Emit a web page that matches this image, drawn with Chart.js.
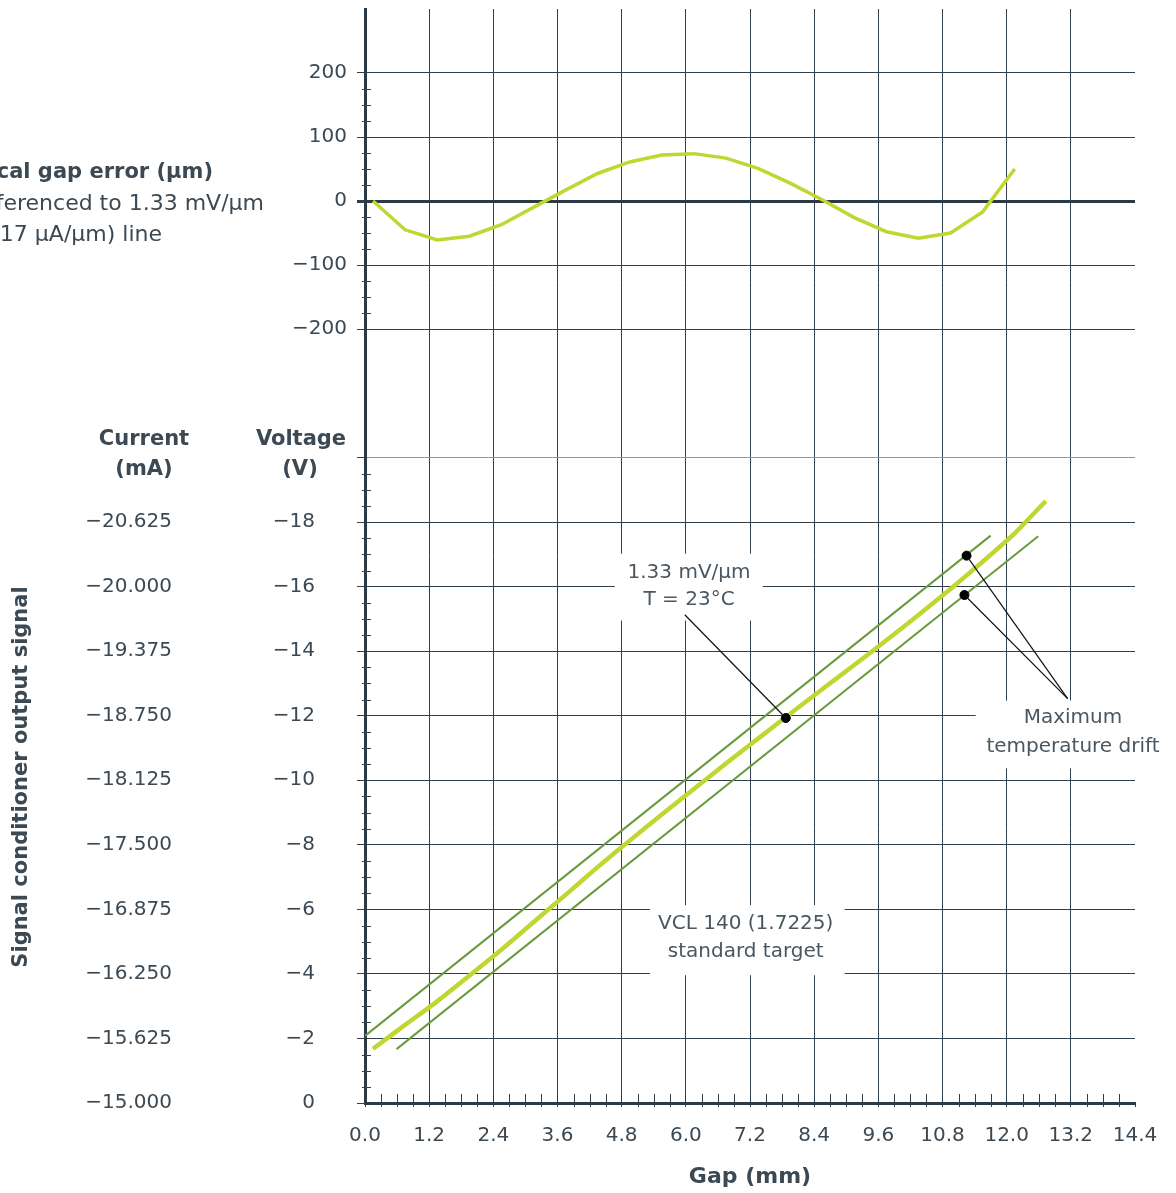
<!DOCTYPE html>
<html><head><meta charset="utf-8">
<script src="https://cdn.jsdelivr.net/npm/chart.js@4.4.1/dist/chart.umd.min.js"></script>
<style>html,body{margin:0;padding:0;background:#fff;overflow:hidden}canvas{display:block}</style>
</head><body>
<canvas id="c" width="1176" height="1193" style="width:1176px;height:1193px"></canvas>
<script>
// ---- data ----
const gapX = [0.15,0.75,1.35,1.95,2.55,3.15,3.75,4.35,4.95,5.55,6.15,6.75,7.35,7.95,8.55,9.15,9.75,10.35,10.95,11.55,12.15];
const gapError = [0,-45,-61,-55,-37,-10,17,43,61,72,74,67,51,28,2,-26,-48,-58,-50,-17,50];
const outputX = [0.15,0.75,1.35,1.95,2.55,3.15,3.75,4.35,4.95,5.55,6.15,6.75,7.35,7.95,8.55,9.15,9.75,10.35,10.95,11.55,12.15,12.73];
const outputV = [-1.68,-2.42,-3.15,-3.94,-4.75,-5.60,-6.45,-7.31,-8.13,-8.94,-9.73,-10.52,-11.29,-12.06,-12.82,-13.57,-14.34,-15.12,-15.93,-16.77,-17.65,-18.65];
const driftHighX = [0, 11.70];
const driftHighV = [-2.08, -17.58];
const driftLowX = [0.59, 12.59];
const driftLowV = [-1.67, -17.56];
const markerX = [7.87, 11.25, 11.21];
const markerV = [-11.93, -16.96, -15.74];
const xTicks = [0,1.2,2.4,3.6,4.8,6.0,7.2,8.4,9.6,10.8,12.0,13.2,14.4];
const xTickLabels = ['0.0','1.2','2.4','3.6','4.8','6.0','7.2','8.4','9.6','10.8','12.0','13.2','14.4'];
const gapTicks = [-200,-100,0,100,200];
const gapTickLabels = ['\u2212200','\u2212100','0','100','200'];
const voltTicks = [0,-2,-4,-6,-8,-10,-12,-14,-16,-18,-20];
const voltTickLabels = ['0','\u22122','\u22124','\u22126','\u22128','\u221210','\u221212','\u221214','\u221216','\u221218',''];
const currentLabels = ['\u221215.000','\u221215.625','\u221216.250','\u221216.875','\u221217.500','\u221218.125','\u221218.750','\u221219.375','\u221220.000','\u221220.625',''];

// ---- style ----
const FONT = '"DejaVu Sans", sans-serif';
const TXT = '#3c4953';
const GRID = '#2f3f4b';
const AXIS = '#2c3a45';
const LIME = '#c0d732';
const DRIFT = '#6a9a3e';

const notes = [
  {lines:['1.33 mV/\u03bcm','T = 23\u00b0C'], box:[4.67,7.44,-17.02,-14.95], cx:6.06, ly:[-16.43,-15.60],
   leaders:[[5.98,-15.13,7.87,-11.93]]},
  {lines:['Maximum','temperature drift'], box:[11.42,16.5,-12.47,-10.37], cx:13.24, ly:[-11.95,-11.05],
   leaders:[[13.14,-12.53,11.25,-16.96],[13.14,-12.53,11.21,-15.74]]},
  {lines:['VCL 140 (1.7225)','standard target'], box:[5.33,8.97,-6.13,-3.96], cx:7.12, ly:[-5.54,-4.67], leaders:[]}
];

const overlay = {
  id: 'overlay',
  beforeDatasetsDraw(chart) {
    const {ctx, chartArea, scales} = chart;
    const x = scales.x, yv = scales.yv, yg = scales.yg;
    ctx.save();
    // white label boxes hiding the grid
    ctx.fillStyle = '#ffffff';
    notes.forEach(n => {
      const x1 = x.getPixelForValue(n.box[0]), x2 = x.getPixelForValue(n.box[1]);
      const y1 = yv.getPixelForValue(n.box[2]), y2 = yv.getPixelForValue(n.box[3]);
      ctx.fillRect(x1, y1, x2 - x1, y2 - y1);
    });
    // minor ticks
    ctx.strokeStyle = GRID; ctx.lineWidth = 1;
    ctx.beginPath();
    const b = chartArea.bottom, l = chartArea.left;
    for (let k = 1; k < 48; k++) {
      if (k % 4 === 0) continue;
      const px = Math.round(x.getPixelForValue(k * 0.3)) + 0.5;
      ctx.moveTo(px, b - 9); ctx.lineTo(px, b + 4);
    }
    for (let k = -7; k <= 7; k++) {
      if (k % 4 === 0) continue;
      const py = Math.round(yg.getPixelForValue(k * 25)) + 0.5;
      ctx.moveTo(l - 3, py); ctx.lineTo(l + 6, py);
    }
    for (let k = 1; k < 40; k++) {
      if (k % 4 === 0) continue;
      const py = Math.round(yv.getPixelForValue(-k * 0.5)) + 0.5;
      ctx.moveTo(l - 3, py); ctx.lineTo(l + 6, py);
    }
    ctx.stroke();
    ctx.restore();
  },
  afterDatasetsDraw(chart) {
    const {ctx, scales} = chart;
    const x = scales.x, yv = scales.yv;
    ctx.save();
    // leaders
    ctx.strokeStyle = '#111'; ctx.lineWidth = 1.2;
    notes.forEach(n => n.leaders.forEach(s => {
      ctx.beginPath();
      ctx.moveTo(x.getPixelForValue(s[0]), yv.getPixelForValue(s[1]));
      ctx.lineTo(x.getPixelForValue(s[2]), yv.getPixelForValue(s[3]));
      ctx.stroke();
    }));
    // note text
    ctx.fillStyle = '#4a5760';
    ctx.font = '20px ' + FONT;
    ctx.textAlign = 'center'; ctx.textBaseline = 'middle';
    notes.forEach(n => n.lines.forEach((t, i) => {
      ctx.fillText(t, x.getPixelForValue(n.cx), yv.getPixelForValue(n.ly[i]));
    }));
    ctx.restore();
  },
  afterDraw(chart) {
    const {ctx, scales} = chart;
    const yv = scales.yv;
    ctx.save();
    ctx.fillStyle = TXT;
    ctx.textBaseline = 'middle';
    // current column
    ctx.font = '20px ' + FONT;
    ctx.textAlign = 'right';
    voltTicks.forEach((v, i) => ctx.fillText(currentLabels[i], 172, yv.getPixelForValue(v)));
    // headers
    ctx.font = 'bold 21px ' + FONT;
    ctx.textAlign = 'center';
    ctx.fillText('Current', 144, 440);
    ctx.fillText('(mA)', 144, 470);
    ctx.fillText('Voltage', 301, 440);
    ctx.fillText('(V)', 300, 470);
    // rotated title
    ctx.save();
    ctx.translate(22, 777);
    ctx.rotate(-Math.PI / 2);
    ctx.fillText('Signal conditioner output signal', 0, 0);
    ctx.restore();
    // top-left note (clipped by the page edge)
    ctx.textAlign = 'right';
    ctx.font = 'bold 21px ' + FONT;
    ctx.fillText('Typical gap error (\u03bcm)', 213, 173);
    ctx.font = '22px ' + FONT;
    ctx.fillText('Referenced to 1.33 mV/\u03bcm', 264, 204);
    ctx.fillText('(0.417 \u03bcA/\u03bcm) line', 162, 235);
    ctx.restore();
  }
};

const pts = (xs, ys) => xs.map((v, i) => ({x: v, y: ys[i]}));

new Chart(document.getElementById('c'), {
  type: 'line',
  data: {
    datasets: [
      {label:'markers', data: pts(markerX, markerV), yAxisID:'yv', showLine:false, pointRadius:4.5,
       pointBackgroundColor:'#000', pointBorderColor:'#000', order:0},
      {label:'gap error', data: pts(gapX, gapError), yAxisID:'yg', borderColor:LIME, borderWidth:3.5,
       pointRadius:0, tension:0, order:1},
      {label:'output', data: pts(outputX, outputV), yAxisID:'yv', borderColor:LIME, borderWidth:4.5,
       pointRadius:0, tension:0.2, order:1},
      {label:'drift high', data: pts(driftHighX, driftHighV), yAxisID:'yv', borderColor:DRIFT, borderWidth:2,
       pointRadius:0, order:2},
      {label:'drift low', data: pts(driftLowX, driftLowV), yAxisID:'yv', borderColor:DRIFT, borderWidth:2,
       pointRadius:0, order:2}
    ]
  },
  options: {
    responsive: false, animation: false, devicePixelRatio: 1,
    layout: {padding: {left: 0, right: 41, top: 9, bottom: 0}},
    plugins: {legend: {display: false}, tooltip: {enabled: false}},
    scales: {
      x: {
        type: 'linear', position: 'bottom', min: 0, max: 14.4,
        afterBuildTicks: s => { s.ticks = xTicks.map(v => ({value: v})); },
        ticks: {autoSkip: false, maxRotation: 0, padding: 17, color: TXT, font: {family: FONT, size: 20},
                callback: (v, i) => xTickLabels[i]},
        grid: {color: c => (c.tick && (c.tick.value === 0 || c.tick.value > 14.3)) ? 'rgba(0,0,0,0)' : GRID,
               lineWidth: 1, tickLength: 4, tickColor: GRID},
        border: {color: AXIS, width: 3},
        title: {display: true, text: 'Gap (mm)', color: TXT, font: {family: FONT, size: 22, weight: 'bold'},
                padding: {top: 0, bottom: 3}},
        afterFit: s => { s.height = 90; s.paddingLeft = 0; s.paddingRight = 0; }
      },
      yv: {
        type: 'linear', position: 'left', stack: 'panels', stackWeight: 710,
        min: -22, max: 0, reverse: true,
        afterBuildTicks: s => { s.ticks = voltTicks.map(v => ({value: v})); },
        ticks: {autoSkip: false, padding: 42, color: TXT, font: {family: FONT, size: 20},
                callback: (v, i) => voltTickLabels[i]},
        grid: {color: c => (c.tick && c.tick.value === -20) ? '#8d989f' : GRID, lineWidth: 1, tickLength: 8, tickColor: GRID},
        border: {color: AXIS, width: 3},
        afterFit: s => { s.width = 365; s.paddingTop = 0; s.paddingBottom = 0; }
      },
      yg: {
        type: 'linear', position: 'left', stack: 'panels', stackWeight: 384,
        min: -300, max: 300,
        afterBuildTicks: s => { s.ticks = gapTicks.map(v => ({value: v})); },
        ticks: {autoSkip: false, padding: 10, color: TXT, font: {family: FONT, size: 20},
                callback: (v, i) => gapTickLabels[i]},
        grid: {color: c => (c.tick && c.tick.value === 0) ? AXIS : GRID,
               lineWidth: c => (c.tick && c.tick.value === 0) ? 3 : 1, tickLength: 8, tickColor: GRID},
        border: {color: AXIS, width: 3},
        afterFit: s => { s.width = 365; s.paddingTop = 0; s.paddingBottom = 0; }
      }
    }
  },
  plugins: [overlay]
});
</script>
</body></html>
